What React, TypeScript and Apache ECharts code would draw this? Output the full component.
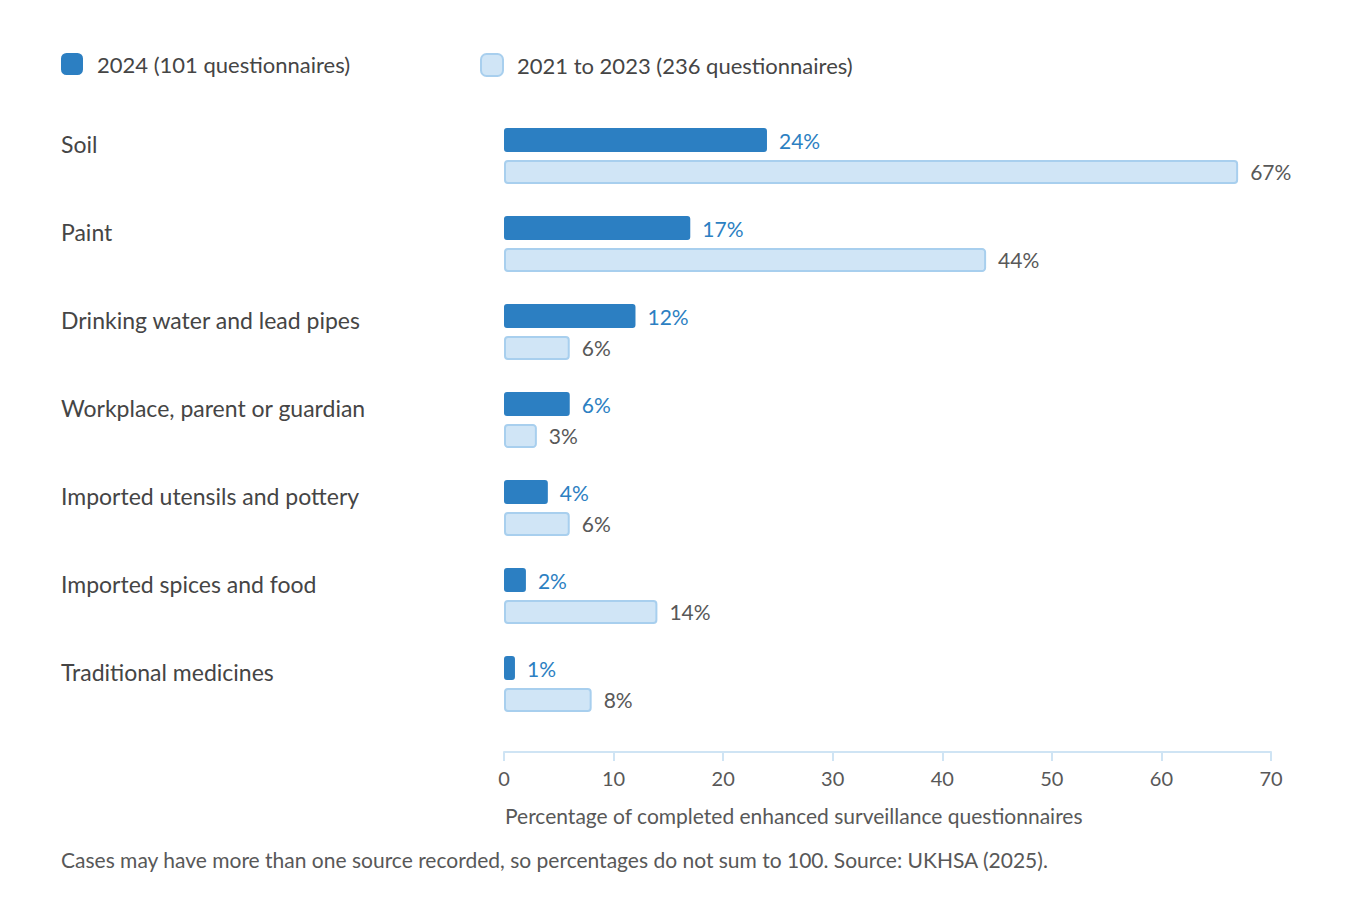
// Fontes de exposicao ao chumbo: comparacao 2024 x 2021-2023 (barras horizontais agrupadas).
import { useEffect, useRef } from 'react'
import * as echarts from 'echarts'

const categorias = [
  'Soil',
  'Paint',
  'Drinking water and lead pipes',
  'Workplace, parent or guardian',
  'Imported utensils and pottery',
  'Imported spices and food',
  'Traditional medicines',
]
const valores2024 = [24, 17, 12, 6, 4, 2, 1]
const valores2021a2023 = [67, 44, 6, 3, 6, 14, 8]
const ticksX = [0, 10, 20, 30, 40, 50, 60, 70]

const nome2024 = '2024 (101 questionnaires)'
const nomeAnteriores = '2021 to 2023 (236 questionnaires)'

const AZUL = '#2c7fc2'
const AZUL_CLARO = '#d0e5f6'
const BORDA_CLARA = '#a8cfee'
const TEXTO = '#454545'
const TEXTO_SUAVE = '#585858'
const FONTE = 'Lato, "Noto Sans", sans-serif'

// legenda: um componente por serie, para fixar a posicao de cada item
const legendaBase = {
  icon: 'roundRect',
  itemWidth: 22,
  itemHeight: 22,
  padding: 0,
  top: 53,
  selectedMode: false,
  textStyle: { fontSize: 22, color: TEXTO, padding: [0, 0, 0, 9] },
}

export default function App() {
  const containerRef = useRef<HTMLDivElement>(null)

  useEffect(() => {
    if (!containerRef.current) return
    const instancia = echarts.init(containerRef.current, undefined, { renderer: 'svg' })

    instancia.setOption({
      animation: false,
      backgroundColor: '#ffffff',
      textStyle: { fontFamily: FONTE },
      legend: [
        { ...legendaBase, data: [nome2024], left: 61 },
        { ...legendaBase, data: [nomeAnteriores], left: 480 },
      ],
      grid: { left: 504, top: 112, width: 767, height: 616, containLabel: false },
      xAxis: {
        type: 'value',
        min: 0,
        max: 70,
        interval: 10,
        offset: 24,
        splitLine: { show: false },
        axisLine: { show: true, lineStyle: { color: '#cfe4f4', width: 2 } },
        axisTick: { show: true, length: 9, lineStyle: { color: '#cfe4f4', width: 2 } },
        axisLabel: {
          fontSize: 20,
          color: TEXTO_SUAVE,
          margin: 16,
          customValues: ticksX,
        },
      },
      yAxis: {
        type: 'category',
        data: categorias,
        inverse: true,
        axisLine: { show: false },
        axisTick: { show: false },
        axisLabel: {
          align: 'left',
          margin: 443,
          fontSize: 23,
          color: TEXTO,
          verticalAlign: 'bottom',
          lineHeight: 24,
        },
      },
      graphic: [
        {
          type: 'text',
          left: 505,
          top: 805,
          style: {
            text: 'Percentage of completed enhanced surveillance questionnaires',
            fontSize: 21,
            fill: TEXTO_SUAVE,
            fontFamily: FONTE,
          },
        },
        {
          type: 'text',
          left: 61,
          top: 849,
          style: {
            text: 'Cases may have more than one source recorded, so percentages do not sum to 100. Source: UKHSA (2025).',
            fontSize: 21,
            fill: TEXTO_SUAVE,
            fontFamily: FONTE,
          },
        },
      ],
      series: [
        {
          name: nome2024,
          type: 'bar',
          data: valores2024,
          barWidth: 24,
          barGap: '33.3%',
          itemStyle: { color: AZUL, borderRadius: 3 },
          label: {
            show: true,
            position: 'right',
            distance: 12,
            formatter: '{c}%',
            fontSize: 21,
            color: AZUL,
          },
        },
        {
          name: nomeAnteriores,
          type: 'bar',
          data: valores2021a2023,
          barWidth: 24,
          itemStyle: { color: AZUL_CLARO, borderColor: BORDA_CLARA, borderWidth: 2, borderRadius: 3 },
          label: {
            show: true,
            position: 'right',
            distance: 12,
            formatter: '{c}%',
            fontSize: 21,
            color: TEXTO_SUAVE,
          },
        },
      ],
    })

    return () => {
      instancia.dispose()
    }
  }, [])

  return (
    <div
      ref={containerRef}
      style={{ position: 'absolute', left: 0, top: 0, width: 1360, height: 920 }}
    />
  )
}
